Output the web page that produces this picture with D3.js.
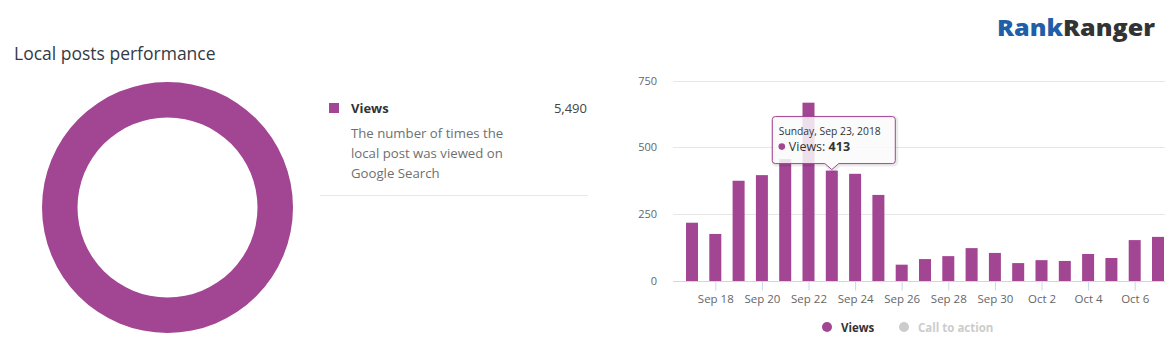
<!DOCTYPE html>
<html>
<head>
<meta charset="utf-8">
<script src="https://cdn.jsdelivr.net/npm/d3@7"></script>
<style>
  html, body { margin: 0; padding: 0; background: #fff; }
  svg { display: block; }
  text { font-family: "Open Sans", "Noto Sans", sans-serif; }
</style>
</head>
<body>
<svg id="chart" width="1175" height="351"></svg>
<script>
// ---------- data ----------
const title = "Local posts performance";
const seriesName = "Views";
const seriesTotal = 5490;
const seriesDescription = ["The number of times the", "local post was viewed on", "Google Search"];
const startDate = "2018-09-17";
const dailyViews = [218, 176, 375, 396, 456, 667, 413, 401, 322, 61, 82, 93, 123, 105, 67, 78, 75, 101, 86, 153, 165];
const yTicks = [0, 250, 500, 750];
const legendItems = ["Views", "Call to action"];
const tooltipDate = "2018-09-23";
const tooltipHeader = "Sunday, Sep 23, 2018";

// ---------- styles ----------
const purple = "#a24592";
const svg = d3.select("#chart");
const parse = d3.utcParse("%Y-%m-%d");
const d0 = parse(startDate);
const data = dailyViews.map((v, i) => ({ date: d3.utcDay.offset(d0, i), value: v }));

// ---------- logo ----------
const logo = svg.append("text").attr("x", 997).attr("y", 36)
  .attr("font-family", "Roboto, 'Liberation Sans', sans-serif")
  .attr("font-weight", 900).attr("font-size", 22)
  .attr("textLength", 158).attr("lengthAdjust", "spacingAndGlyphs");
logo.append("tspan").attr("fill", "#1f5ea8").text("Rank");
logo.append("tspan").attr("fill", "#333333").text("Ranger");

// ---------- title ----------
svg.append("text").attr("x", 14).attr("y", 60)
  .attr("font-size", 17.5).attr("fill", "#333a44").text(title);

// ---------- donut ----------
const pie = d3.pie().sort(null).value(d => d)([seriesTotal]);
const arc = d3.arc().innerRadius(90).outerRadius(125.5);
svg.append("g").attr("transform", "translate(167.5,207.5)")
  .selectAll("path").data(pie).join("path")
  .attr("d", arc).attr("fill", purple);

// ---------- left legend ----------
svg.append("rect").attr("x", 329).attr("y", 103).attr("width", 10).attr("height", 10).attr("fill", purple);
svg.append("text").attr("x", 351).attr("y", 112.5).attr("font-size", 13).attr("font-weight", 700)
  .attr("fill", "#333").text(seriesName);
svg.append("text").attr("x", 587).attr("y", 112.5).attr("font-size", 13).attr("text-anchor", "end")
  .attr("fill", "#444").text(d3.format(",")(seriesTotal));
svg.append("g").selectAll("text").data(seriesDescription).join("text")
  .attr("x", 351).attr("y", (d, i) => 138 + i * 20)
  .attr("font-size", 13.2).attr("fill", "#6f6f6f").text(d => d);
svg.append("line").attr("x1", 320).attr("x2", 588).attr("y1", 195.5).attr("y2", 195.5)
  .attr("stroke", "#e8e8e8").attr("stroke-width", 1);

// ---------- bar chart ----------
const plotLeft = 673, plotRight = 1165;
const x = d3.scaleUtc()
  .domain([data[0].date, data[data.length - 1].date])
  .range([692, 1158]);
const y = d3.scaleLinear().domain([0, 750]).range([281, 80.5]);
const barW = 12;

// grid
svg.append("g").selectAll("line").data(yTicks.filter(t => t > 0)).join("line")
  .attr("x1", plotLeft).attr("x2", plotRight)
  .attr("y1", d => Math.round(y(d)) + 0.5).attr("y2", d => Math.round(y(d)) + 0.5)
  .attr("stroke", "#e6e6e6");

// y labels
svg.append("g").selectAll("text").data(yTicks).join("text")
  .attr("x", 657).attr("y", d => y(d) + 4)
  .attr("text-anchor", "end").attr("font-size", 11).attr("fill", "#666").text(d => d);

// bars
svg.append("g").selectAll("rect").data(data).join("rect")
  .attr("x", d => x(d.date) - barW / 2).attr("width", barW)
  .attr("y", d => y(d.value)).attr("height", d => y(0) - y(d.value))
  .attr("fill", purple);

// x axis
const xTicks = data.filter((d, i) => i % 2 === 1).map(d => d.date);
const xAxis = d3.axisBottom(x).tickValues(xTicks).tickFormat(d3.utcFormat("%b %-d"))
  .tickSizeInner(9).tickSizeOuter(0).tickPadding(4);
const gx = svg.append("g").attr("transform", `translate(0,${y(0) + 0.5})`).call(xAxis);
gx.select(".domain").remove();
gx.append("line").attr("x1", plotLeft).attr("x2", plotRight).attr("stroke", "#ccd6eb");
gx.selectAll(".tick line").attr("stroke", "#ccd6eb");
gx.selectAll(".tick text").attr("font-size", 11.5).attr("fill", "#666")
  .attr("font-family", "'Open Sans', 'Noto Sans', sans-serif");

// bottom legend
const legendX = [827, 904];
const lg = svg.append("g").selectAll("g").data(legendItems).join("g")
  .attr("transform", (d, i) => `translate(${legendX[i]},327)`);
lg.append("circle").attr("r", 5).attr("fill", (d, i) => i === 0 ? purple : "#cccccc");
lg.append("text").attr("x", 14).attr("y", 4.5).attr("font-size", 11.5).attr("font-weight", 700)
  .attr("fill", (d, i) => i === 0 ? "#333" : "#cccccc").text(d => d);

// ---------- tooltip ----------
const tipDatum = data.find(d => +d.date === +parse(tooltipDate));
const tipX = x(tipDatum.date), tipY = y(tipDatum.value) - 1;
const boxW = 123, boxH = 47, boxLeft = tipX - 60, boxTop = tipY - 53.5, r = 3, arrowW = 7;
const bx = boxLeft + 0.5, by = boxTop + 0.5, bBottom = by + boxH;
const p = d3.path();
p.moveTo(bx + r, by);
p.lineTo(bx + boxW - r, by);
p.arcTo(bx + boxW, by, bx + boxW, by + r, r);
p.lineTo(bx + boxW, bBottom - r);
p.arcTo(bx + boxW, bBottom, bx + boxW - r, bBottom, r);
p.lineTo(tipX + arrowW, bBottom);
p.lineTo(tipX, tipY);
p.lineTo(tipX - arrowW, bBottom);
p.lineTo(bx + r, bBottom);
p.arcTo(bx, bBottom, bx, bBottom - r, r);
p.lineTo(bx, by + r);
p.arcTo(bx, by, bx + r, by, r);
p.closePath();
const tip = svg.append("g");
tip.append("path").attr("d", p.toString()).attr("fill", "none")
  .attr("stroke", "rgba(0,0,0,0.08)").attr("stroke-width", 4).attr("transform", "translate(1,1)");
tip.append("path").attr("d", p.toString()).attr("fill", "rgba(250,250,250,0.85)")
  .attr("stroke", purple).attr("stroke-width", 1);
tip.append("text").attr("x", boxLeft + 7).attr("y", boxTop + 19)
  .attr("font-size", 10.3).attr("fill", "#333").text(tooltipHeader);
tip.append("circle").attr("cx", boxLeft + 10).attr("cy", boxTop + 30.5).attr("r", 3.3).attr("fill", purple);
const tl = tip.append("text").attr("x", boxLeft + 17).attr("y", boxTop + 34.5)
  .attr("font-size", 12.5).attr("fill", "#333");
tl.append("tspan").text(seriesName + ": ");
tl.append("tspan").attr("font-weight", 700).text(tipDatum.value);
</script>
</body>
</html>
